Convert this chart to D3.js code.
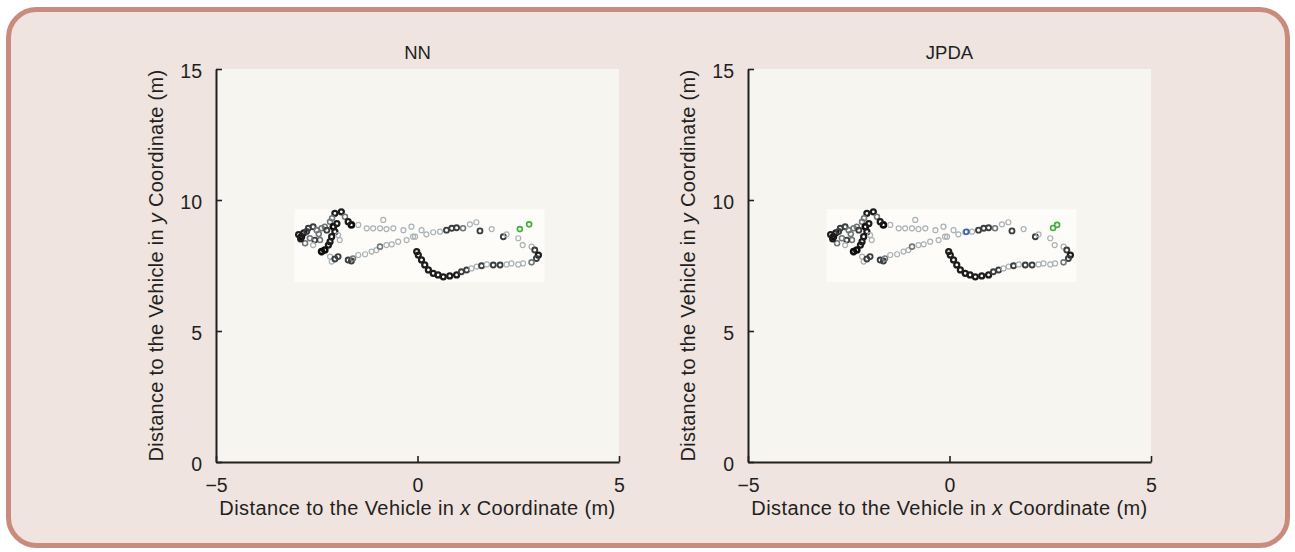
<!DOCTYPE html>
<html>
<head>
<meta charset="utf-8">
<script src="https://cdn.jsdelivr.net/npm/d3@7"></script>
<style>
  body { margin: 0; background: #fff; }
  text { font-family: "Liberation Sans", Arial, Helvetica, sans-serif; fill: #231f20; }
</style>
</head>
<body>
<svg id="chart" width="1295" height="552"></svg>
<script>
/* global d3 */
// ---- data: [x (m), y (m), repeated hits] ----
const panelTitles = ["NN", "JPDA"];
const xTicks = [-5, 0, 5];
const yTicks = [0, 5, 10, 15];

const leftCluster = [
  [-2.88, 8.60, 5], [-2.95, 8.68, 4], [-2.79, 8.35, 2], [-2.71, 8.92, 3], [-2.59, 8.98, 3],
  [-2.50, 8.85, 2], [-2.38, 8.92, 2], [-2.30, 8.98, 2], [-2.17, 9.17, 2], [-2.05, 9.49, 4],
  [-1.89, 9.55, 4], [-1.80, 9.36, 2], [-2.09, 8.98, 5], [-2.05, 8.79, 4], [-2.13, 8.60, 4],
  [-2.17, 8.41, 4], [-2.21, 8.28, 4], [-2.30, 8.09, 5], [-2.38, 8.03, 5], [-2.42, 8.47, 2],
  [-2.55, 8.47, 3], [-2.67, 8.54, 2], [-2.59, 8.28, 1], [-1.93, 8.47, 1], [-1.97, 8.66, 1],
  [-1.64, 9.05, 5], [-1.72, 9.17, 4], [-2.82, 8.75, 4], [-2.00, 9.10, 4], [-2.90, 8.52, 4],
  [-2.75, 8.80, 3], [-2.45, 8.70, 2], [-2.25, 8.85, 3], [-2.12, 9.30, 2]
];
const upperTrack = [
  [-1.47, 9.05, 1], [-1.26, 8.92, 1], [-1.10, 8.92, 1], [-0.93, 8.92, 1], [-0.85, 9.24, 1],
  [-0.77, 8.89, 1], [-0.60, 8.92, 1], [-0.35, 8.85, 1], [-0.15, 8.98, 1], [-0.11, 8.60, 1],
  [0.10, 8.85, 1], [0.22, 8.69, 1], [0.39, 8.77, 1], [0.56, 8.79, 1], [0.72, 8.85, 3],
  [0.85, 8.92, 3], [0.97, 8.94, 3], [1.13, 8.92, 2], [1.30, 9.07, 1], [1.46, 9.15, 1],
  [1.55, 8.82, 3], [1.84, 8.89, 1], [2.13, 8.60, 3], [2.21, 8.69, 1], [2.50, 8.54, 1],
  [2.61, 8.28, 1], [2.83, 8.22, 1], [2.91, 8.09, 3], [3.00, 7.90, 4], [2.95, 7.77, 3]
];
const middleTrack = [
  [-2.17, 7.84, 1], [-2.13, 7.65, 1], [-2.05, 7.75, 3], [-1.97, 7.84, 3], [-1.72, 7.71, 3],
  [-1.64, 7.67, 3], [-1.60, 7.77, 2], [-1.47, 7.90, 1], [-1.30, 7.93, 1], [-1.14, 8.03, 1],
  [-1.02, 8.09, 1], [-0.93, 8.22, 2], [-0.77, 8.28, 1], [-0.64, 8.31, 1], [-0.48, 8.41, 1],
  [-0.27, 8.47, 1], [-0.06, 8.60, 1]
];
const lowerTrack = [
  [-0.02, 8.03, 4], [0.02, 7.90, 4], [0.10, 7.71, 4], [0.18, 7.52, 4], [0.27, 7.33, 4],
  [0.39, 7.20, 4], [0.51, 7.14, 4], [0.64, 7.07, 4], [0.80, 7.10, 4], [0.97, 7.14, 4],
  [1.09, 7.26, 3], [1.22, 7.33, 3], [1.34, 7.39, 1], [1.47, 7.46, 1], [1.59, 7.49, 3],
  [1.72, 7.54, 1], [1.88, 7.52, 3], [2.05, 7.52, 3], [2.21, 7.54, 1], [2.33, 7.58, 1],
  [2.50, 7.54, 1], [2.62, 7.58, 1], [2.83, 7.62, 2]
];
const nnGreen = [[2.54, 8.89, 1], [2.77, 9.07, 1]];
const jpdaGreen = [[2.57, 8.93, 1], [2.67, 9.05, 1]];
const jpdaBlue = [[0.42, 8.79, 1]];

// ---- layout ----
const svg = d3.select("#chart");
const plotTop = 69, plotBottom = 462, plotW = 403;
const panelLeft = [216, 748];

svg.append("defs").append("filter").attr("id", "soft")
  .append("feGaussianBlur").attr("stdDeviation", 0.45);

svg.append("rect")
  .attr("x", 8.5).attr("y", 9.5).attr("width", 1279).attr("height", 536)
  .attr("rx", 28).attr("ry", 28)
  .attr("fill", "#efe4e0").attr("stroke", "#c98b7d").attr("stroke-width", 5);

const track = [...leftCluster, ...upperTrack, ...middleTrack, ...lowerTrack];
const hitColor = d3.scaleLinear().domain([1, 2, 3, 4, 5])
  .range(["#a9b2b6", "#70777a", "#3b3e40", "#1c1c1c", "#0d0d0d"]).clamp(true);
const hitWidth = d3.scaleLinear().domain([1, 5]).range([1.2, 2.6]).clamp(true);

panelTitles.forEach((title, i) => {
  const x = d3.scaleLinear().domain([-5, 5]).range([panelLeft[i], panelLeft[i] + plotW]);
  const y = d3.scaleLinear().domain([0, 15]).range([plotBottom, plotTop]);
  const g = svg.append("g");

  g.append("rect")
    .attr("x", x(-5)).attr("y", y(15))
    .attr("width", x(5) - x(-5)).attr("height", y(0) - y(15))
    .attr("fill", "#f7f5ef");

  // lighter backdrop behind the detections
  const ex = d3.extent(track, d => d[0]);
  const ey = d3.extent(track, d => d[1]);
  g.append("rect")
    .attr("x", x(ex[0] - 0.1)).attr("y", y(ey[1] + 0.1))
    .attr("width", x(ex[1] + 0.15) - x(ex[0] - 0.1))
    .attr("height", y(ey[0] - 0.2) - y(ey[1] + 0.1))
    .attr("fill", "#fdfcf9");

  const dots = (data, color, width) => g.append("g")
    .attr("filter", "url(#soft)")
    .selectAll("circle").data(data).join("circle")
      .attr("cx", d => x(d[0])).attr("cy", d => y(d[1]))
      .attr("r", 2.5).attr("fill", "none")
      .attr("stroke", color).attr("stroke-width", width);

  dots(track, d => hitColor(d[2]), d => hitWidth(d[2]));
  dots(i === 0 ? nnGreen : jpdaGreen, "#3fae3a", 1.6);
  if (i === 1) dots(jpdaBlue, "#3d5fa8", 1.6);

  // axes, ticks inward
  const xAxis = g.append("g")
    .attr("transform", `translate(0,${plotBottom})`)
    .call(d3.axisBottom(x).tickValues(xTicks).tickSize(-6).tickSizeOuter(0).tickPadding(16));
  const yAxis = g.append("g")
    .attr("transform", `translate(${x(-5)},0)`)
    .call(d3.axisLeft(y).tickValues(yTicks).tickSize(-6).tickSizeOuter(0).tickPadding(14));
  [xAxis, yAxis].forEach(a => {
    a.select(".domain").attr("stroke", "#231f20").attr("stroke-width", 2);
    a.selectAll(".tick line").attr("stroke", "#231f20").attr("stroke-width", 1.6);
    a.selectAll(".tick text").attr("font-size", 19.5).attr("fill", "#231f20")
      .attr("font-family", "Liberation Sans, Arial, sans-serif");
  });
  yAxis.selectAll(".tick text").attr("dy", "0.75em").attr("y", -6);

  g.append("text")
    .attr("x", (x(-5) + x(5)) / 2).attr("y", 59)
    .attr("text-anchor", "middle").attr("font-size", 18.5)
    .text(title);

  const xl = g.append("text")
    .attr("x", (x(-5) + x(5)) / 2).attr("y", 515)
    .attr("text-anchor", "middle").attr("font-size", 20)
    .attr("letter-spacing", 0.4);
  xl.append("tspan").text("Distance to the Vehicle in ");
  xl.append("tspan").attr("font-style", "italic").text("x");
  xl.append("tspan").text(" Coordinate (m)");

  const yl = g.append("text")
    .attr("transform", `translate(${x(-5) - 53},${(y(0) + y(15)) / 2}) rotate(-90)`)
    .attr("text-anchor", "middle").attr("font-size", 20)
    .attr("letter-spacing", 0.3);
  yl.append("tspan").text("Distance to the Vehicle in ");
  yl.append("tspan").attr("font-style", "italic").text("y");
  yl.append("tspan").text(" Coordinate (m)");
});
</script>
</body>
</html>
